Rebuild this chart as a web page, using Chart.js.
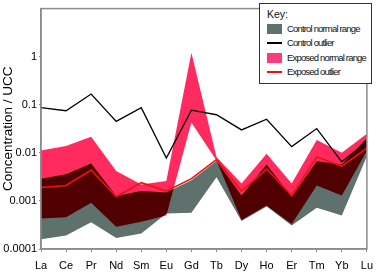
<!DOCTYPE html>
<html>
<head>
<meta charset="utf-8">
<script src="https://cdn.jsdelivr.net/npm/chart.js@4/dist/chart.umd.min.js"></script>
<style>
  html, body { margin: 0; padding: 0; background: #fff; }
  #wrap { position: relative; width: 380px; height: 273px; }
  #key {
    position: absolute; left: 259px; top: 3px; width: 111px; height: 79px;
    border: 1px solid #333; background: #fff;
    font-family: "Liberation Sans", Arial, sans-serif; color: #111;
  }
  #key .title { position: absolute; left: 7px; top: 4px; font-size: 10.5px; }
  #key .row { position: absolute; left: 7px; height: 12px; font-size: 9.5px; white-space: nowrap; }
  #key .sw { position: absolute; left: 0; width: 15px; }
  #key .txt { position: absolute; left: 20px; top: 0; line-height: 12px; }
</style>
</head>
<body>
<div id="wrap">
  <canvas id="chart" width="380" height="273"></canvas>
  <div id="key">
    <div class="title">Key:</div>
    <div class="row" style="top:19px"><div class="sw" style="top:1px;height:10px;background:#5f716d"></div><div class="txt">Control normal range</div></div>
    <div class="row" style="top:33px"><div class="sw" style="top:5px;height:2px;background:#000"></div><div class="txt">Control outlier</div></div>
    <div class="row" style="top:48px"><div class="sw" style="top:1px;height:10px;background:#ff3a78"></div><div class="txt">Exposed normal range</div></div>
    <div class="row" style="top:62px"><div class="sw" style="top:5px;height:2px;background:#f01010"></div><div class="txt">Exposed outlier</div></div>
  </div>
</div>
<script>
// Datos (concentración / UCC)
const elements = ['La', 'Ce', 'Pr', 'Nd', 'Sm', 'Eu', 'Gd', 'Tb', 'Dy', 'Ho', 'Er', 'Tm', 'Yb', 'Lu'];
const controlLow = [0.00016, 0.00019, 0.00036, 0.00017, 0.00021, 0.00055, 0.00057, 0.0031, 0.00038, 0.00077, 0.00031, 0.00072, 0.0005, 0.0085];
const controlHigh = [0.0029, 0.0036, 0.0060, 0.00126, 0.0016, 0.0015, 0.0027, 0.0068, 0.0013, 0.0057, 0.0012, 0.0067, 0.0057, 0.020];
const exposedLow = [0.00043, 0.00046, 0.00092, 0.00029, 0.00037, 0.0005, 0.043, 0.0069, 0.0004, 0.0008, 0.00033, 0.0021, 0.0013, 0.011];
const exposedHigh = [0.0112, 0.0139, 0.0215, 0.0042, 0.0022, 0.0026, 1.2, 0.0082, 0.0023, 0.0096, 0.0023, 0.0185, 0.010, 0.025];
const controlOutlier = [0.087, 0.075, 0.167, 0.045, 0.087, 0.0078, 0.077, 0.062, 0.030, 0.050, 0.0135, 0.032, 0.0065, 0.017];
const exposedOutlier = [0.0019, 0.0021, 0.0044, 0.00122, 0.0024, 0.0016, 0.0029, 0.0072, 0.0016, 0.0046, 0.0013, 0.0082, 0.0053, 0.0125];
const yTicks = [0.0001, 0.001, 0.01, 0.1, 1];

const GREY = '#5f716d';
const PINK = '#ff2b5e';
const MAROON = '#500000';
const FRAME = '#8c8c8c';

// Ajustar el espaciado del texto de la leyenda al ancho del original
(function() {
    const txts = document.querySelectorAll('#key .txt');
    const w = txts[2].getBoundingClientRect().width;
    const ls = (79 - w) / 20;
    txts.forEach(function(t) { t.style.letterSpacing = ls + 'px'; });
})();

function bandPath(ctx, hi, lo) {
    ctx.beginPath();
    hi.forEach(function(p, i) { i ? ctx.lineTo(p.x, p.y) : ctx.moveTo(p.x, p.y); });
    for (let i = lo.length - 1; i >= 0; i--) ctx.lineTo(lo[i].x, lo[i].y);
    ctx.closePath();
}

// Zona de solapamiento entre rangos (marrón oscuro)
const overlapPlugin = {
    id: 'overlap',
    beforeDatasetsDraw(chart) {
        const ctx = chart.ctx, a = chart.chartArea;
        const cHi = chart.getDatasetMeta(0).data, cLo = chart.getDatasetMeta(1).data;
        const eHi = chart.getDatasetMeta(2).data, eLo = chart.getDatasetMeta(3).data;
        ctx.save();
        ctx.beginPath();
        ctx.rect(a.left, a.top, a.right - a.left, a.bottom - a.top);
        ctx.clip();
        bandPath(ctx, eHi, eLo);
        ctx.clip();
        bandPath(ctx, cHi, cLo);
        ctx.fillStyle = MAROON;
        ctx.fill();
        ctx.restore();
    },
    afterDatasetsDraw(chart) {
        const ctx = chart.ctx, a = chart.chartArea;
        ctx.save();
        ctx.strokeStyle = FRAME;
        ctx.lineWidth = 1.5;
        ctx.strokeRect(a.left, a.top, a.right - a.left, a.bottom - a.top);
        ctx.restore();
    }
};

const band = { pointRadius: 0, borderWidth: 0, tension: 0, order: 3 };

new Chart(document.getElementById('chart'), {
    type: 'line',
    data: {
        labels: elements,
        datasets: [
            Object.assign({ label: 'Control normal range', data: controlHigh, fill: '+1', backgroundColor: GREY }, band),
            Object.assign({ label: 'Control low', data: controlLow, fill: false }, band),
            Object.assign({ label: 'Exposed normal range', data: exposedHigh, fill: '+1', backgroundColor: PINK }, band),
            Object.assign({ label: 'Exposed low', data: exposedLow, fill: false }, band),
            { label: 'Control outlier', data: controlOutlier, borderColor: '#000', borderWidth: 1.3, pointRadius: 0, tension: 0, fill: false, order: 1 },
            { label: 'Exposed outlier', data: exposedOutlier, borderColor: '#f01010', borderWidth: 1.6, pointRadius: 0, tension: 0, fill: false, order: 2 }
        ]
    },
    options: {
        responsive: false,
        animation: false,
        layout: { padding: { top: 2, right: 7, bottom: 0, left: 0 } },
        plugins: {
            legend: { display: false },
            tooltip: { enabled: false },
            filler: { drawTime: 'beforeDatasetsDraw' }
        },
        scales: {
            x: {
                offset: false,
                grid: { display: true, drawOnChartArea: false, drawTicks: true, tickLength: 3, color: FRAME },
                border: { display: true, color: FRAME, width: 1.5 },
                ticks: { color: '#000', padding: 7, maxRotation: 0, autoSkip: false, font: { family: 'Liberation Sans', size: 11 } },
                afterFit: function(s) { s.height = 24; }
            },
            y: {
                type: 'logarithmic',
                min: 0.0001,
                max: 10,
                grid: { display: true, drawOnChartArea: false, drawTicks: true, tickLength: 2, color: FRAME },
                border: { display: true, color: FRAME, width: 1.5 },
                afterBuildTicks: function(s) { s.ticks = yTicks.map(function(v) { return { value: v }; }); },
                ticks: {
                    color: '#000', padding: 2,
                    font: { family: 'Liberation Sans', size: 11 },
                    callback: function(v) { return String(v); }
                },
                title: {
                    display: true, text: 'Concentration / UCC', color: '#000',
                    padding: { top: 0, bottom: 0 },
                    font: { family: 'Liberation Sans', size: 13.5 }
                },
                afterFit: function(s) { s.width = 41; }
            }
        }
    },
    plugins: [overlapPlugin]
});
</script>
</body>
</html>
